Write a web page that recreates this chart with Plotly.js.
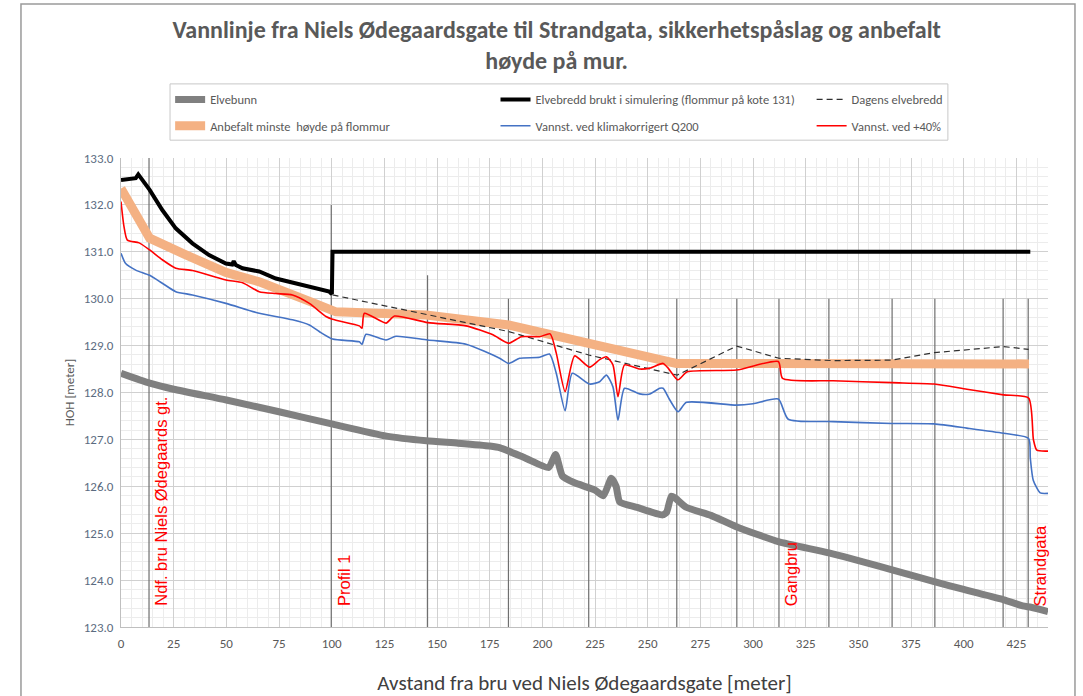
<!DOCTYPE html>
<html>
<head>
<meta charset="utf-8">
<script src="https://cdn.plot.ly/plotly-3.0.1.min.js"></script>
<style>html,body{margin:0;padding:0;background:#fff}#chart{width:1083px;height:696px}</style>
</head>
<body>
<div id="chart"></div>
<script>
// ---- data ----
const bunnX = [0, 13.6, 25, 50, 75, 100, 126, 145, 160, 175, 180, 192, 203, 206.3, 209.5, 215, 225, 229, 232.7, 235, 236.7, 245, 257, 259, 261.2, 263, 268, 280, 292, 312, 336, 366, 386, 400, 419, 428, 432, 440];
const bunnY = [128.41, 128.2, 128.07, 127.84, 127.59, 127.33, 127.07, 126.97, 126.92, 126.86, 126.82, 126.6, 126.4, 126.68, 126.22, 126.08, 125.92, 125.8, 126.17, 126.0, 125.67, 125.55, 125.39, 125.45, 125.79, 125.75, 125.56, 125.38, 125.14, 124.82, 124.58, 124.22, 123.97, 123.8, 123.58, 123.45, 123.42, 123.33];

const bredX = [0, 7, 8.2, 10.1, 13.6, 19.6, 26, 33.9, 41.8, 49.8, 52.8, 53.5, 54.5, 57.7, 65.6, 73.5, 81.4, 89.4, 98.9, 100.1, 100.4, 431.6];
const bredY = [132.53, 132.57, 132.65, 132.53, 132.32, 131.89, 131.5, 131.18, 130.93, 130.75, 130.73, 130.8, 130.72, 130.65, 130.58, 130.43, 130.34, 130.26, 130.15, 130.1, 131.0, 131.0];

const dagensX = [100.4, 145.6, 184, 222, 264, 292.2, 312.3, 338, 366, 386, 418.9, 430.8];
const dagensY = [130.08, 129.65, 129.3, 128.8, 128.37, 128.99, 128.73, 128.68, 128.69, 128.85, 128.98, 128.92];

const anbX = [0, 13.6, 30, 49.8, 65.6, 81.4, 92, 102, 144.8, 184, 222, 263.6, 431];
const anbY = [132.35, 131.29, 130.95, 130.56, 130.36, 130.11, 129.9, 129.72, 129.65, 129.44, 129.05, 128.62, 128.61];

const q200X = [0, 2.2, 7, 13.6, 19.6, 26, 33.9, 49.8, 65.6, 81.4, 89.4, 94.1, 100.4, 113.1, 114.4, 116.3, 125.8, 130.5, 145.6, 163.8, 179.7, 184, 189.2, 198.7, 203.4, 206.6, 210.8, 214.2, 222.4, 227.2, 230.4, 233.5, 235.9, 239, 246.2, 251, 255.7, 257.3, 260.5, 264.4, 268.4, 292.2, 300, 312, 316.7, 338, 366, 386, 401.5, 418.9, 430.8, 431.6, 433, 436.3, 440];
const q200Y = [130.97, 130.75, 130.61, 130.5, 130.33, 130.15, 130.08, 129.9, 129.69, 129.55, 129.44, 129.3, 129.14, 129.08, 129.03, 129.24, 129.12, 129.2, 129.12, 129.03, 128.73, 128.62, 128.73, 128.75, 128.82, 128.41, 127.61, 128.41, 128.18, 128.23, 128.37, 128.12, 127.41, 128.09, 127.97, 127.97, 128.09, 128.09, 127.84, 127.59, 127.79, 127.73, 127.76, 127.86, 127.43, 127.38, 127.34, 127.33, 127.24, 127.13, 127.02, 126.6, 126.13, 125.86, 125.85];

const p40X = [0, 1.4, 3, 8.6, 13.6, 19.6, 26, 33.9, 49.8, 57.7, 65.6, 73.5, 81.4, 89.4, 97.3, 100.4, 113.1, 114.4, 115.5, 125.8, 129.8, 145.6, 163.8, 176.5, 184, 190, 198.7, 203.7, 206.6, 210.8, 215.3, 222.4, 227.2, 230.4, 233.5, 235.9, 239, 246.2, 251, 257.3, 259.7, 264.3, 268.8, 292.2, 312, 314, 338, 366, 386, 401.5, 418.9, 430.8, 433.1, 434.7, 440];
const p40Y = [132.07, 131.54, 131.25, 131.19, 131.04, 130.83, 130.65, 130.6, 130.4, 130.34, 130.15, 130.11, 130.08, 129.9, 129.62, 129.56, 129.42, 129.37, 129.69, 129.48, 129.63, 129.49, 129.42, 129.23, 129.05, 129.19, 129.19, 129.25, 128.84, 128.02, 128.78, 128.54, 128.7, 128.76, 128.59, 127.91, 128.59, 128.5, 128.52, 128.62, 128.52, 128.27, 128.44, 128.48, 128.66, 128.3, 128.25, 128.21, 128.18, 128.07, 127.95, 127.88, 126.99, 126.77, 126.75];

// cross-section (profile) lines: position and top level
const profX = [13.3, 99.8, 145.5, 183.9, 222, 263.8, 292.3, 312.3, 336, 366, 386.3, 418.7, 430.6];
const profTop = [133, 132, 130.5, 130, 130, 130, 130, 130, 130, 130, 130, 130, 130];

const placeLabels = ["Ndf. bru Niels Ødegaards gt.", "Profil 1", "Gangbru", "Strandgata"];
const placeX = [13.3, 99.8, 312.3, 430.6];

const xTicks = [0, 25, 50, 75, 100, 125, 150, 175, 200, 225, 250, 275, 300, 325, 350, 375, 400, 425];
const yTicks = [123, 124, 125, 126, 127, 128, 129, 130, 131, 132, 133];

const names = {
  bunn: "Elvebunn",
  bredd: "Elvebredd brukt i simulering (flommur på kote 131)",
  dagens: "Dagens elvebredd",
  anb: "Anbefalt minste  høyde på flommur",
  q200: "Vannst. ved klimakorrigert Q200",
  p40: "Vannst. ved +40%"
};

// ---- build ----
const FONT = "Carlito, Lato, 'Open Sans', sans-serif";
const px = [], py = [];
profX.forEach((x, i) => { px.push(x, x, null); py.push(123, profTop[i], null); });

const traces = [
  {x: px, y: py, mode: 'lines', line: {color: '#6f6f6f', width: 1.2}, showlegend: false, hoverinfo: 'skip'},
  {x: anbX, y: anbY, name: names.anb, mode: 'lines', line: {color: '#F4B183', width: 9}, legend: 'legend', legendgroup: 'a', legendrank: 2},
  {x: bunnX, y: bunnY, name: names.bunn, mode: 'lines', line: {color: '#808080', width: 7, shape: 'spline', smoothing: 0.5}, legend: 'legend', legendgroup: 'b', legendrank: 1},
  {x: bredX, y: bredY, name: names.bredd, mode: 'lines', line: {color: '#000000', width: 4}, legend: 'legend2', legendgroup: 'c', legendrank: 1},
  {x: dagensX, y: dagensY, name: names.dagens, mode: 'lines', line: {color: '#303030', width: 1.2, dash: '6px,4px'}, legend: 'legend3', legendgroup: 'd', legendrank: 1},
  {x: q200X, y: q200Y, name: names.q200, mode: 'lines', line: {color: '#4472C4', width: 1.6, shape: 'spline', smoothing: 0.6}, legend: 'legend2', legendgroup: 'e', legendrank: 2},
  {x: p40X, y: p40Y, name: names.p40, mode: 'lines', line: {color: '#FF0000', width: 1.6, shape: 'spline', smoothing: 0.6}, legend: 'legend3', legendgroup: 'f', legendrank: 2}
];

const annotations = placeLabels.map((t, i) => ({
  x: placeX[i], y: 123.4, xref: 'x', yref: 'y', text: t, showarrow: false,
  textangle: -90, xanchor: 'left', yanchor: 'bottom', xshift: 1,
  font: {family: "'Liberation Sans', Arial, sans-serif", size: 16.5, color: '#FF0000'}
}));

const legBase = {
  orientation: 'v', yanchor: 'top', xanchor: 'left', y: 1.156,
  bgcolor: 'rgba(0,0,0,0)', borderwidth: 0, traceorder: 'grouped', tracegroupgap: 7,
  font: {family: FONT, size: 12.5, color: '#595959'}
};

const layout = {
  width: 1083, height: 696,
  margin: {l: 121, r: 35, t: 158, b: 69},
  paper_bgcolor: '#ffffff', plot_bgcolor: '#ffffff',
  font: {family: FONT, color: '#595959'},
  title: {
    text: 'Vannlinje fra Niels Ødegaardsgate til Strandgata, sikkerhetspåslag og anbefalt<br>høyde på mur.',
    font: {family: FONT, size: 24, color: '#595959', weight: 'bold'},
    x: 0.514, xref: 'container', xanchor: 'center', y: 0.945, yref: 'container', yanchor: 'top'
  },
  xaxis: {
    range: [0, 440], tickvals: xTicks, ticks: '', showline: true, linecolor: '#bfbfbf', zeroline: false,
    showgrid: true, gridcolor: '#d0d0d0', gridwidth: 1,
    minor: {dtick: 5, showgrid: true, gridcolor: '#ececec', gridwidth: 1},
    tickfont: {family: FONT, size: 13, color: '#595959'}, ticklabelstandoff: 4,
    title: {text: 'Avstand fra bru ved Niels Ødegaardsgate [meter]', font: {family: FONT, size: 21, color: '#404040'}, standoff: 30}
  },
  yaxis: {
    range: [123, 133], tickvals: yTicks, tickformat: '.1f', ticks: '', showline: true, linecolor: '#bfbfbf', zeroline: false,
    showgrid: true, gridcolor: '#d0d0d0', gridwidth: 1,
    minor: {dtick: 0.2, showgrid: true, gridcolor: '#ececec', gridwidth: 1},
    tickfont: {family: FONT, size: 13, color: '#5b6b80'}, ticklabelstandoff: 4,
    title: {text: 'HOH [meter]', font: {family: FONT, size: 13, color: '#595959'}, standoff: 6}
  },
  legend: Object.assign({}, legBase, {x: 0.053}),
  legend2: Object.assign({}, legBase, {x: 0.404}),
  legend3: Object.assign({}, legBase, {x: 0.745}),
  annotations: annotations,
  shapes: [
    {type: 'rect', xref: 'paper', yref: 'paper', x0: 0.0529, x1: 0.892, y0: 1.038, y1: 1.158, line: {color: '#c8c8c8', width: 1}},
    {type: 'rect', xref: 'paper', yref: 'paper', x0: -0.1079, x1: 1.0291, y0: -0.2, y1: 1.3284, line: {color: '#9a9a9a', width: 1.5}}
  ],
  showlegend: true
};

Plotly.newPlot('chart', traces, layout, {displayModeBar: false, responsive: false});
</script>
</body>
</html>
